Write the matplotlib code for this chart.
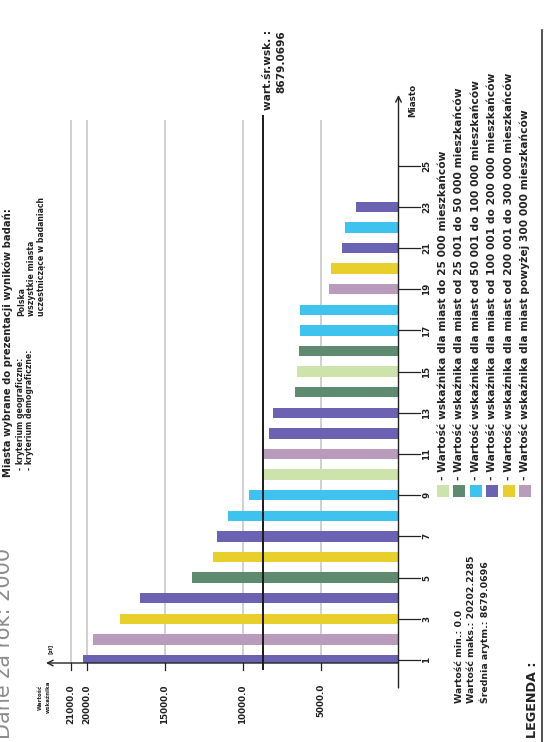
import matplotlib
matplotlib.use('Agg')
import matplotlib.pyplot as plt
from matplotlib import font_manager as fm
from matplotlib.patches import Rectangle

# ---------------- data ----------------
cities = list(range(1, 26))
values = [20202.2285, 19600, 17880, 16600, 13260, 11920, 11660, 10960, 9610,
          8710, 8620, 8330, 8040, 6660, 6530, 6410, 6300, 6300, 4480, 4310,
          3650, 3460, 2750, 0.0, 0.0]
groups = [4, 6, 5, 4, 2, 5, 4, 3, 3, 1, 6, 4, 4, 2, 1, 2, 3, 3, 6, 5, 4, 3, 4, 1, 1]
city_ticks = list(range(1, 26, 2))
value_ticks = [5000.0, 10000.0, 15000.0, 20000.0, 21000.0]
mean_value = 8679.0696
min_value = 0.0
max_value = 20202.2285
legend_labels = [
    "- Wartość wskaźnika dla miast do 25 000 mieszkańców",
    "- Wartość wskaźnika dla miast od 25 001 do 50 000 mieszkańców",
    "- Wartość wskaźnika dla miast od 50 001 do 100 000 mieszkańców",
    "- Wartość wskaźnika dla miast od 100 001 do 200 000 mieszkańców",
    "- Wartość wskaźnika dla miast od 200 001 do 300 000 mieszkańców",
    "- Wartość wskaźnika dla miast powyżej 300 000 mieszkańców",
]
group_colors = ['#CCE3AC', '#5E8B70', '#3DC3EE', '#6C62B2', '#E8CF2B', '#B99BBB']

# ---------------- fonts ----------------
avail = {f.name for f in fm.fontManager.ttflist}
NARROW = 'Liberation Sans Narrow' if 'Liberation Sans Narrow' in avail else 'DejaVu Sans'
plt.rcParams['font.family'] = [NARROW, 'DejaVu Sans']

W, H = 551, 742
fig = plt.figure(figsize=(W / 100, H / 100), dpi=100)
fig.patch.set_facecolor('white')
renderer = fig.canvas.get_renderer()


def fit_size(text, target, weight='bold', family=None):
    kw = dict(fontsize=10, weight=weight)
    if family:
        kw['family'] = family
    t = fig.text(0, 0, text, **kw)
    w = t.get_window_extent(renderer).width
    t.remove()
    return 10 * target / w


# ---------------- geometry (pixel mapping) ----------------
X0 = 398.5          # pixel of value 0
S = 0.0156          # pixels per unit
CY1 = 660.0         # pixel of city 1
DY = 20.6           # pixels per city
VMAX = (X0 - 47.0) / S
AX_BOTTOM, AX_TOP = 663.0, 95.0


def vx(px):
    return (X0 - px) / S


def cy(py):
    return 1 + (CY1 - py) / DY


ax = fig.add_axes([47.0 / W, 1 - AX_BOTTOM / H, (X0 - 47.0) / W, (AX_BOTTOM - AX_TOP) / H])
ax.set_xlim(VMAX, 0)
ax.set_ylim(cy(AX_BOTTOM), cy(AX_TOP))
ax.axis('off')

# gridlines
for g in value_ticks:
    ax.plot([g, g], [cy(AX_BOTTOM), cy(120)], color='#cdcdcd', lw=1.3, zorder=1,
            solid_capstyle='butt')

# bars
bar_colors = [group_colors[g - 1] for g in groups]
ax.barh(cities, values, height=0.5, color=bar_colors, zorder=3)

# mean line
ax.plot([mean_value, mean_value], [cy(670), cy(115)], color='#1a1a1a', lw=1.4,
        zorder=4, clip_on=False, solid_capstyle='butt')

# axes with arrows
ax.annotate('', xy=(vx(46), cy(AX_BOTTOM)), xytext=(0, cy(AX_BOTTOM)),
            arrowprops=dict(arrowstyle='->,head_length=0.4,head_width=0.2', lw=1.0,
                            color='#222', shrinkA=0, shrinkB=0),
            annotation_clip=False)
ax.annotate('', xy=(0, cy(AX_TOP)), xytext=(0, cy(688)),
            arrowprops=dict(arrowstyle='->,head_length=0.4,head_width=0.2', lw=1.0,
                            color='#222', shrinkA=0, shrinkB=0),
            annotation_clip=False)

s_tick = fit_size('15000.0', 40)
for g in value_ticks:
    ax.plot([g, g], [cy(AX_BOTTOM), cy(670)], color='#222', lw=0.9, clip_on=False)
    ax.text(g, cy(684), f'{g:.1f}', rotation=90, ha='center', va='top',
            fontsize=s_tick, weight='bold', color='#222')

for c in city_ticks:
    ax.plot([0, vx(420)], [c, c], color='#222', lw=0.9, clip_on=False)
    ax.text(vx(427), c, str(c), rotation=90, ha='center', va='center',
            fontsize=s_tick, weight='bold', color='#222')

# ---------------- overlay for texts ----------------
ov = fig.add_axes([0, 0, 1, 1], zorder=10)
ov.set_xlim(0, W)
ov.set_ylim(H, 0)
ov.axis('off')
ov.patch.set_alpha(0)

s_small = fit_size(legend_labels[2], 400)


def vtext(x, y, s, size=None, va='bottom', ha='center', **kw):
    kw.setdefault('weight', 'bold')
    kw.setdefault('color', '#222')
    ov.text(x, y, s, rotation=90, ha=ha, va=va, fontsize=size or s_small, **kw)


# title
s_title = fit_size('Dane za rok: 2000', 192, weight='normal', family='DejaVu Sans')
ov.text(14, 739, 'Dane za rok: 2000', rotation=90, ha='right', va='bottom',
        fontsize=s_title, color='#8c8c8c', family='DejaVu Sans')

# top-left block
s_blk1 = min(fit_size('Miasta wybrane do prezentacji wyników badań:', 287), 7.2)
s_blk = min(fit_size('- kryterium demograficzne:', 148), 5.6)
vtext(8, 477, 'Miasta wybrane do prezentacji wyników badań:', size=s_blk1)
vtext(21, 470, '- kryterium geograficzne:', size=s_blk)
vtext(30, 470, '- kryterium demograficzne:', size=s_blk)
vtext(22, 316, 'Polska', size=s_blk)
vtext(32, 316, 'wszystkie miasta', size=s_blk)
vtext(41, 316, 'uczestniczące w badaniach', size=s_blk)

# value axis title
s_lab = fit_size('wskaźnika', 32)
vtext(40, 697, 'Wartość', size=s_lab, va='center')
vtext(48, 697, 'wskaźnika', size=s_lab, va='center')
vtext(50, 649, '[zł]', size=s_lab, va='center')

# mean label
s_mean = fit_size('wart.śr.wsk. :', 80)
vtext(268, 110, 'wart.śr.wsk. :', size=s_mean)
vtext(281, 93, f'{mean_value:.4f}', size=s_mean)

# city axis label
vtext(413, 100, 'Miasto', size=s_tick, va='center')

# stats
s_stat = fit_size('Wartość maks.: 20202.2285', 148)
vtext(460, 703, f'Wartość min.: {min_value:.1f}', size=s_stat)
vtext(472, 703, f'Wartość maks.: {max_value:.4f}', size=s_stat)
vtext(485, 703, f'Średnia arytm.: {mean_value:.4f}', size=s_stat)

# legend
for i, (lab, col) in enumerate(zip(legend_labels, group_colors)):
    x = 443 + i * 16.4
    ov.add_patch(Rectangle((x - 6, 485), 12, 12, facecolor=col, edgecolor='none'))
    vtext(x, 480, lab)

vtext(533, 738, 'LEGENDA :', size=fit_size('LEGENDA :', 77, family='DejaVu Sans'),
      family='DejaVu Sans')
ov.plot([542, 542], [30, 742], color='#333', lw=1.2)

fig.savefig('out.png', dpi=100, facecolor='white')
